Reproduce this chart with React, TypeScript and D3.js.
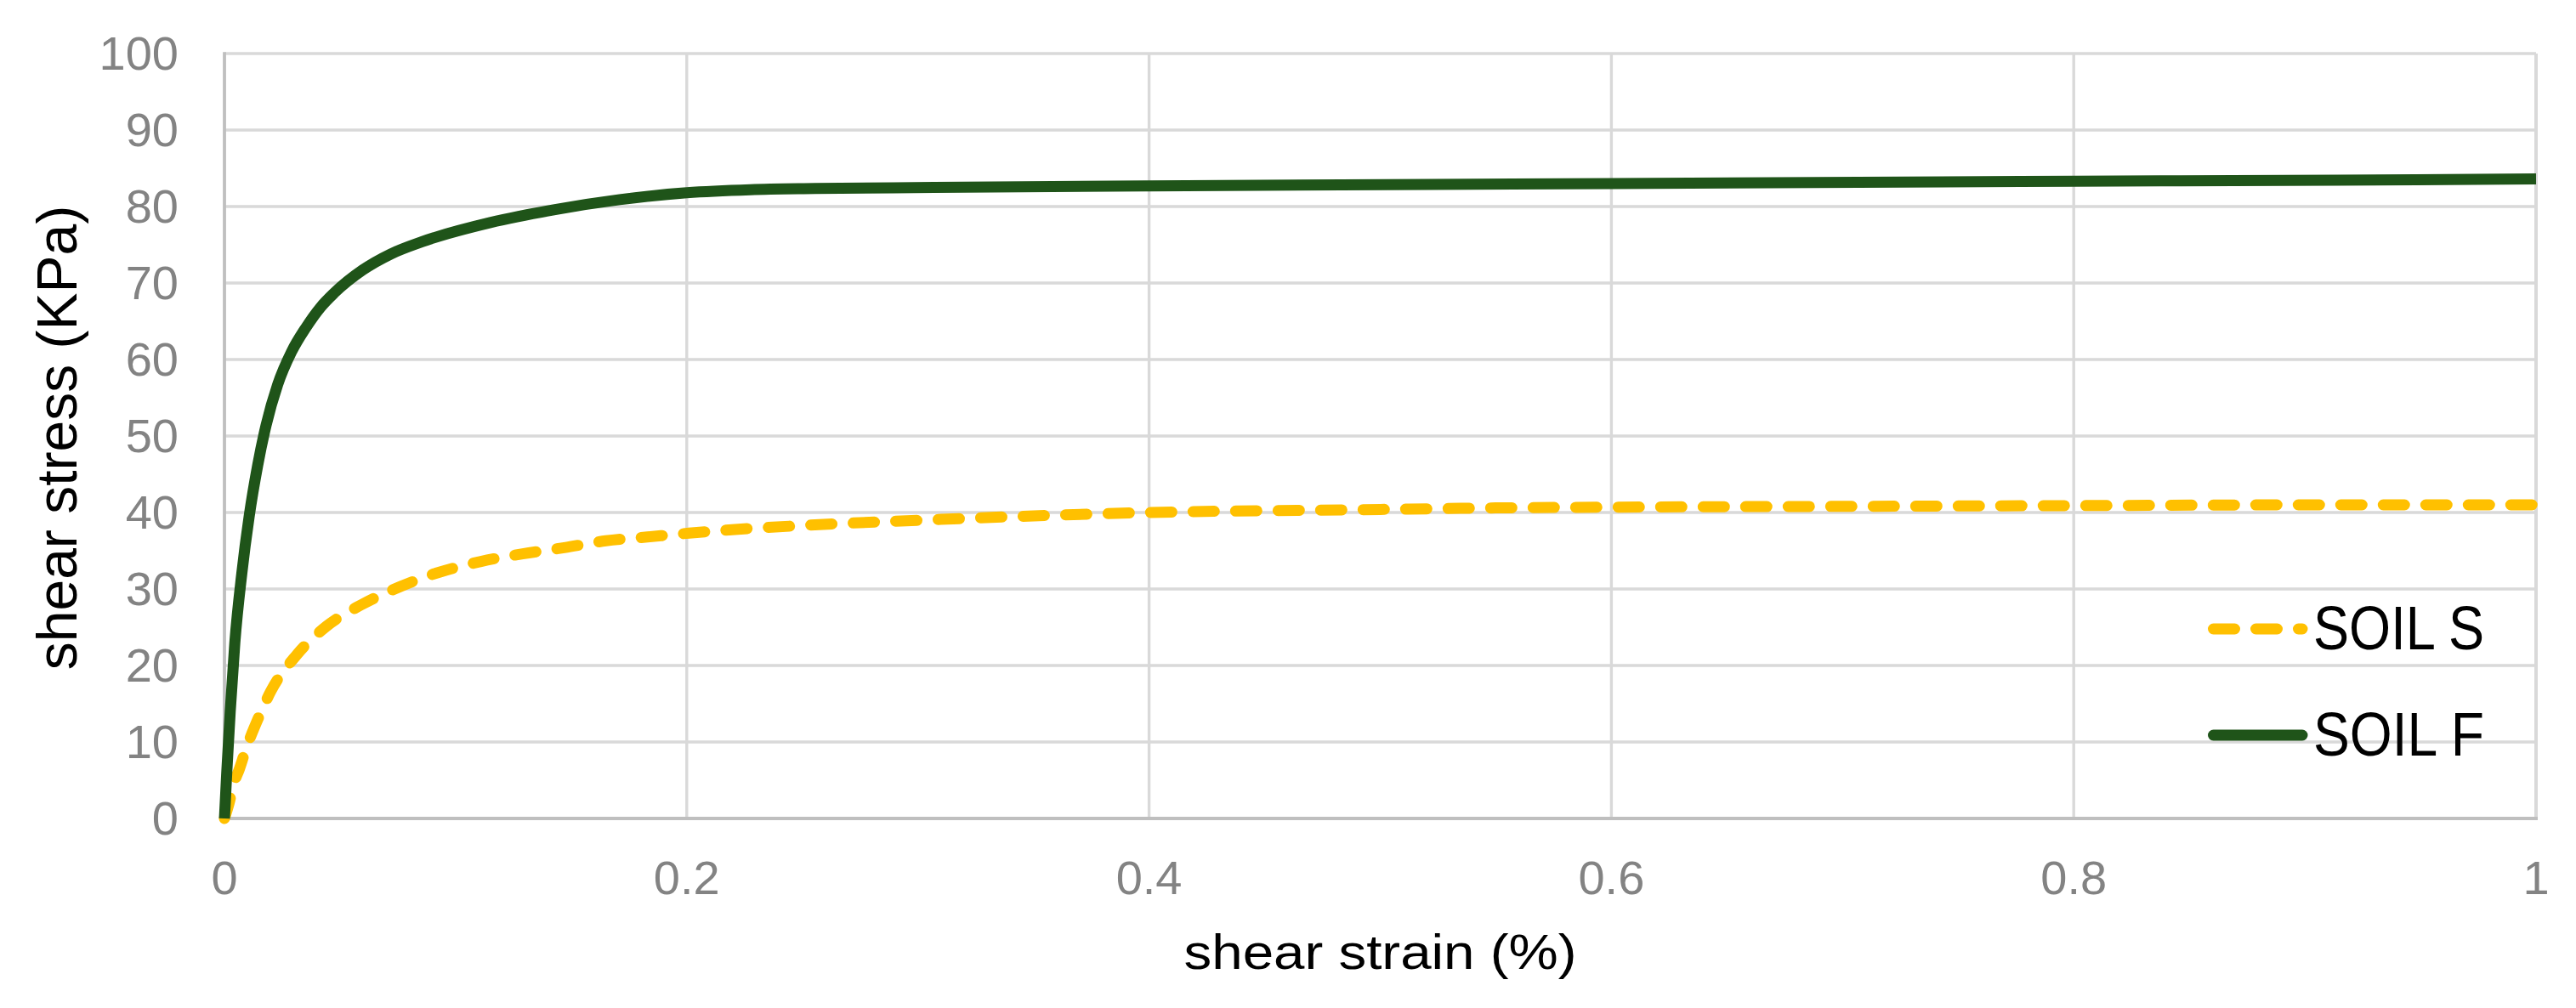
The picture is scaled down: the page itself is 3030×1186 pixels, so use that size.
import React from "react";
import * as d3 from "d3";

// ---- data ----
const seriesNames = ["SOIL S", "SOIL F"];

const strainS = [0, 0.002, 0.004, 0.0065, 0.009, 0.0155, 0.02, 0.031, 0.044, 0.059, 0.076, 0.093, 0.111, 0.129, 0.147, 0.165, 0.183, 0.201, 0.217, 0.25, 0.31, 0.4, 0.5, 0.55, 0.6, 0.7, 0.8, 0.9, 1.0];
const stressS = [0, 2, 4.5, 6.5, 8.8, 13.7, 16.6, 21.3, 25.1, 27.9, 30.3, 32.2, 33.6, 34.6, 35.4, 36.3, 36.8, 37.3, 37.7, 38.3, 39.1, 40.0, 40.4, 40.6, 40.7, 40.8, 40.9, 41.0, 41.0];

const strainF = [0, 0.001, 0.0025, 0.0045, 0.0075, 0.0107, 0.0144, 0.018, 0.023, 0.029, 0.0353, 0.0415, 0.0475, 0.0598, 0.072, 0.0855, 0.115, 0.143, 0.171, 0.2, 0.2275, 0.2556, 0.307, 0.4, 0.6, 0.8, 0.914, 1.0];
const stressF = [0, 6, 14, 23, 32, 39.5, 46.2, 51.4, 56.7, 61.0, 64.2, 66.8, 68.7, 71.7, 73.8, 75.4, 77.9, 79.6, 80.9, 81.8, 82.2, 82.35, 82.5, 82.7, 83.0, 83.3, 83.45, 83.6];

const xTicks = [0, 0.2, 0.4, 0.6, 0.8, 1];
const xTickLabels = ["0", "0.2", "0.4", "0.6", "0.8", "1"];
const yTicks = [0, 10, 20, 30, 40, 50, 60, 70, 80, 90, 100];

const xTitle = "shear strain (%)";
const yTitle = "shear stress (KPa)";

const COLOR_S = "#FFC000";
const COLOR_F = "#1F5419";
const FONT = "'Liberation Sans', Arial, sans-serif";

export default function App() {
  const W = 3030;
  const H = 1186;
  const x = d3.scaleLinear().domain([0, 1]).range([264, 2983]);
  const y = d3.scaleLinear().domain([0, 100]).range([963, 63]);

  const line = d3
    .line<[number, number]>()
    .x((d) => x(d[0]))
    .y((d) => y(d[1]))
    .curve(d3.curveMonotoneX);

  const ptsS: [number, number][] = strainS.map((s, i) => [s, stressS[i]]);
  const ptsF: [number, number][] = strainF.map((s, i) => [s, stressF[i]]);

  const legendX0 = 2603.5;
  const legendX1 = 2708;
  const legend = [
    { name: seriesNames[0], color: COLOR_S, dash: "25 25", ly: 740, ty: 764 },
    { name: seriesNames[1], color: COLOR_F, dash: undefined, ly: 865, ty: 889 },
  ];

  return (
    <svg
      width={W}
      height={H}
      style={{ position: "absolute", left: 0, top: 0, background: "#fff" }}
    >
      <rect x={0} y={0} width={W} height={H} fill="#fff" />
      {/* horizontal gridlines */}
      {yTicks
        .filter((t) => t !== 0)
        .map((t) => (
          <line key={"h" + t} x1={x(0)} x2={x(1)} y1={y(t)} y2={y(t)} stroke="#D9D9D9" strokeWidth={3.4} />
        ))}
      {/* vertical gridlines */}
      {xTicks
        .filter((t) => t !== 0)
        .map((t) => (
          <line key={"v" + t} x1={x(t)} x2={x(t)} y1={y(100)} y2={y(0)} stroke="#D9D9D9" strokeWidth={t === 1 ? 4 : 3.4} />
        ))}
      {/* axes */}
      <line x1={x(0)} x2={x(0)} y1={y(100) - 1.7} y2={y(0) + 2} stroke="#BFBFBF" strokeWidth={3.8} />
      <line x1={x(0) - 2} x2={x(1) + 2} y1={y(0)} y2={y(0)} stroke="#BFBFBF" strokeWidth={4} />

      {/* y tick labels */}
      {yTicks.map((t) => (
        <text key={"yl" + t} x={210} y={y(t) + 19} textAnchor="end" fontFamily={FONT} fontSize={56} fill="#838383">
          {String(t)}
        </text>
      ))}
      {/* x tick labels */}
      {xTicks.map((t, i) => (
        <text key={"xl" + t} x={x(t)} y={1052} textAnchor="middle" fontFamily={FONT} fontSize={56} fill="#838383">
          {xTickLabels[i]}
        </text>
      ))}

      {/* series */}
      <path
        d={line(ptsS) || ""}
        fill="none"
        stroke={COLOR_S}
        strokeWidth={13}
        strokeDasharray="25 25"
        strokeLinecap="round"
        strokeLinejoin="round"
      />
      <path d={line(ptsF) || ""} fill="none" stroke={COLOR_F} strokeWidth={13} strokeLinejoin="round" />

      {/* axis titles */}
      <text x={(x(0) + x(1)) / 2} y={1140} textAnchor="middle" fontFamily={FONT} fontSize={57} fill="#000" textLength={462} lengthAdjust="spacingAndGlyphs">
        {xTitle}
      </text>
      <text
        transform={`translate(90, ${(y(0) + y(100)) / 2 + 2}) rotate(-90)`}
        textAnchor="middle"
        fontFamily={FONT}
        fontSize={66}
        fill="#000"
      >
        {yTitle}
      </text>

      {/* legend */}
      {legend.map((l) => (
        <g key={l.name}>
          <line
            x1={legendX0}
            x2={legendX1}
            y1={l.ly}
            y2={l.ly}
            stroke={l.color}
            strokeWidth={13}
            strokeLinecap="round"
            strokeDasharray={l.dash}
          />
          <text x={2721} y={l.ty} fontFamily={FONT} fontSize={72} fill="#000" textLength={201} lengthAdjust="spacingAndGlyphs">
            {l.name}
          </text>
        </g>
      ))}
    </svg>
  );
}
